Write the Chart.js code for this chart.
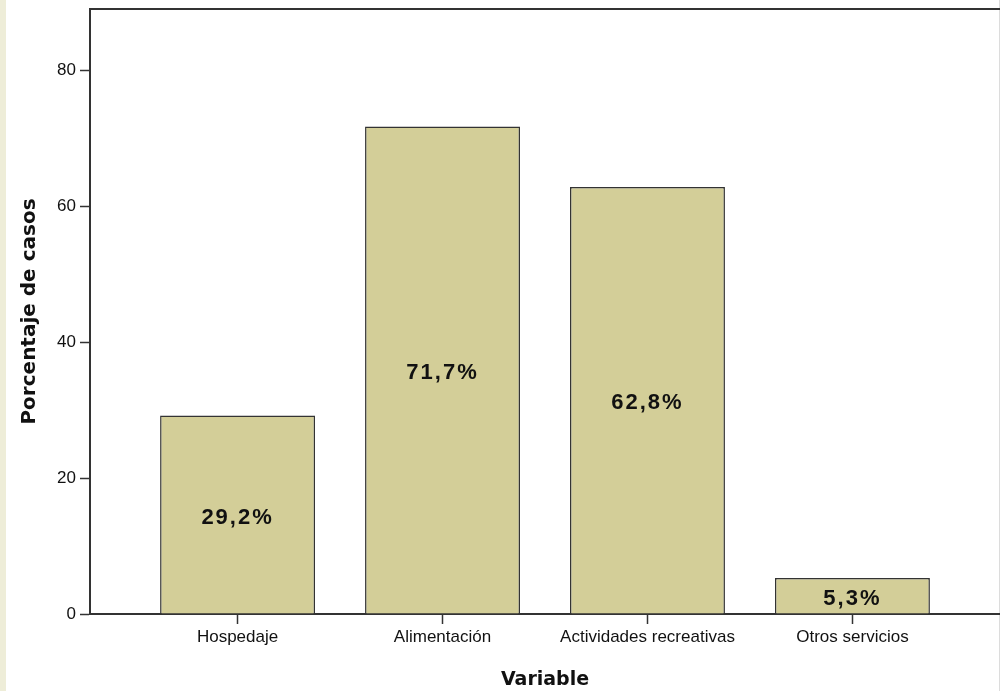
<!DOCTYPE html>
<html>
<head>
<meta charset="utf-8">
<script src="https://cdn.jsdelivr.net/npm/chart.js@4.4.1/dist/chart.umd.min.js"></script>
<style>
  html, body { margin: 0; padding: 0; }
  body {
    width: 1000px; height: 691px; overflow: hidden;
    background: linear-gradient(to right, #eeedd8 0 6px, #ffffff 6px 999px, #dcdcdc 999px 1000px);
  }
  canvas { display: block; }
</style>
</head>
<body>
<canvas id="grafico" width="1000" height="691"></canvas>
<script>
const categorias = ["Hospedaje", "Alimentación", "Actividades recreativas", "Otros servicios"];
const porcentajes = [29.2, 71.7, 62.8, 5.3];
const ticksY = [0, 20, 40, 60, 80];

const colorBarra = "#d3ce98";
const colorLinea = "#333333";

// etiquetas dentro de cada barra
const etiquetasBarras = {
    id: "etiquetasBarras",
    afterDatasetsDraw(chart) {
        const ctx = chart.ctx;
        const meta = chart.getDatasetMeta(0);
        ctx.save();
        ctx.font = "bold 22px 'Liberation Sans', Arial, sans-serif";
        ctx.letterSpacing = "2px";
        ctx.fillStyle = "#111";
        ctx.textAlign = "center";
        ctx.textBaseline = "middle";
        meta.data.forEach((barra, i) => {
            const texto = porcentajes[i].toFixed(1).replace(".", ",") + "%";
            ctx.fillText(texto, barra.x, (barra.y + barra.base) / 2 + 3);
        });
        ctx.restore();
    }
};

const sinPadding = s => { s.paddingTop = 0; s.paddingBottom = 0; s.paddingLeft = 0; s.paddingRight = 0; };

const ctx = document.getElementById("grafico").getContext("2d");
const grafico = new Chart(ctx, {
    type: "bar",
    data: {
        datasets: [{
            data: porcentajes.map((v, i) => ({ x: i, y: v })),
            backgroundColor: colorBarra,
            borderColor: colorLinea,
            borderWidth: 1.5,
            categoryPercentage: 0.756,
            barPercentage: 1
        }]
    },
    options: {
        responsive: false,
        animation: false,
        layout: { padding: { top: 9, left: 0, right: 0, bottom: 0 } },
        plugins: {
            legend: { display: false },
            tooltip: { enabled: false }
        },
        scales: {
            x: {
                type: "linear",
                offset: false,
                min: -0.72,
                max: 3.72,
                afterBuildTicks: s => { s.ticks = categorias.map((c, i) => ({ value: i })); },
                afterFit: s => { s.height = 77; sinPadding(s); },
                grid: { offset: false, drawOnChartArea: false, drawTicks: true, tickLength: 10, tickColor: colorLinea, tickWidth: 1.5 },
                border: { display: true, color: colorLinea, width: 2 },
                ticks: {
                    autoSkip: false,
                    maxRotation: 0,
                    padding: 3,
                    color: "#111",
                    font: { family: "'Liberation Sans', Arial, sans-serif", size: 17 },
                    callback: v => categorias[v]
                },
                title: {
                    display: true,
                    text: "Variable",
                    color: "#111",
                    padding: { top: 0, bottom: 0 },
                    font: { family: "'DejaVu Sans', Verdana, sans-serif", size: 19, weight: "bold" }
                }
            },
            x2: {
                type: "linear",
                position: "top",
                offset: false,
                min: -0.72,
                max: 3.72,
                afterFit: s => { s.height = 0; sinPadding(s); },
                grid: { display: false, drawTicks: false },
                border: { display: true, color: colorLinea, width: 2 },
                ticks: { display: false }
            },
            y: {
                min: 0,
                max: 89,
                afterBuildTicks: s => { s.ticks = ticksY.map(v => ({ value: v })); },
                afterFit: s => { s.width = 90; sinPadding(s); },
                grid: { drawOnChartArea: false, drawTicks: true, tickLength: 10, tickColor: colorLinea, tickWidth: 1.5 },
                border: { display: true, color: colorLinea, width: 2 },
                ticks: {
                    padding: 4,
                    color: "#111",
                    font: { family: "'Liberation Sans', Arial, sans-serif", size: 17 }
                },
                title: {
                    display: true,
                    text: "Porcentaje de casos",
                    color: "#111",
                    padding: { top: 18, bottom: 0 },
                    font: { family: "'DejaVu Sans', Verdana, sans-serif", size: 20, weight: "bold" }
                }
            }
        }
    },
    plugins: [etiquetasBarras]
});
</script>
</body>
</html>
